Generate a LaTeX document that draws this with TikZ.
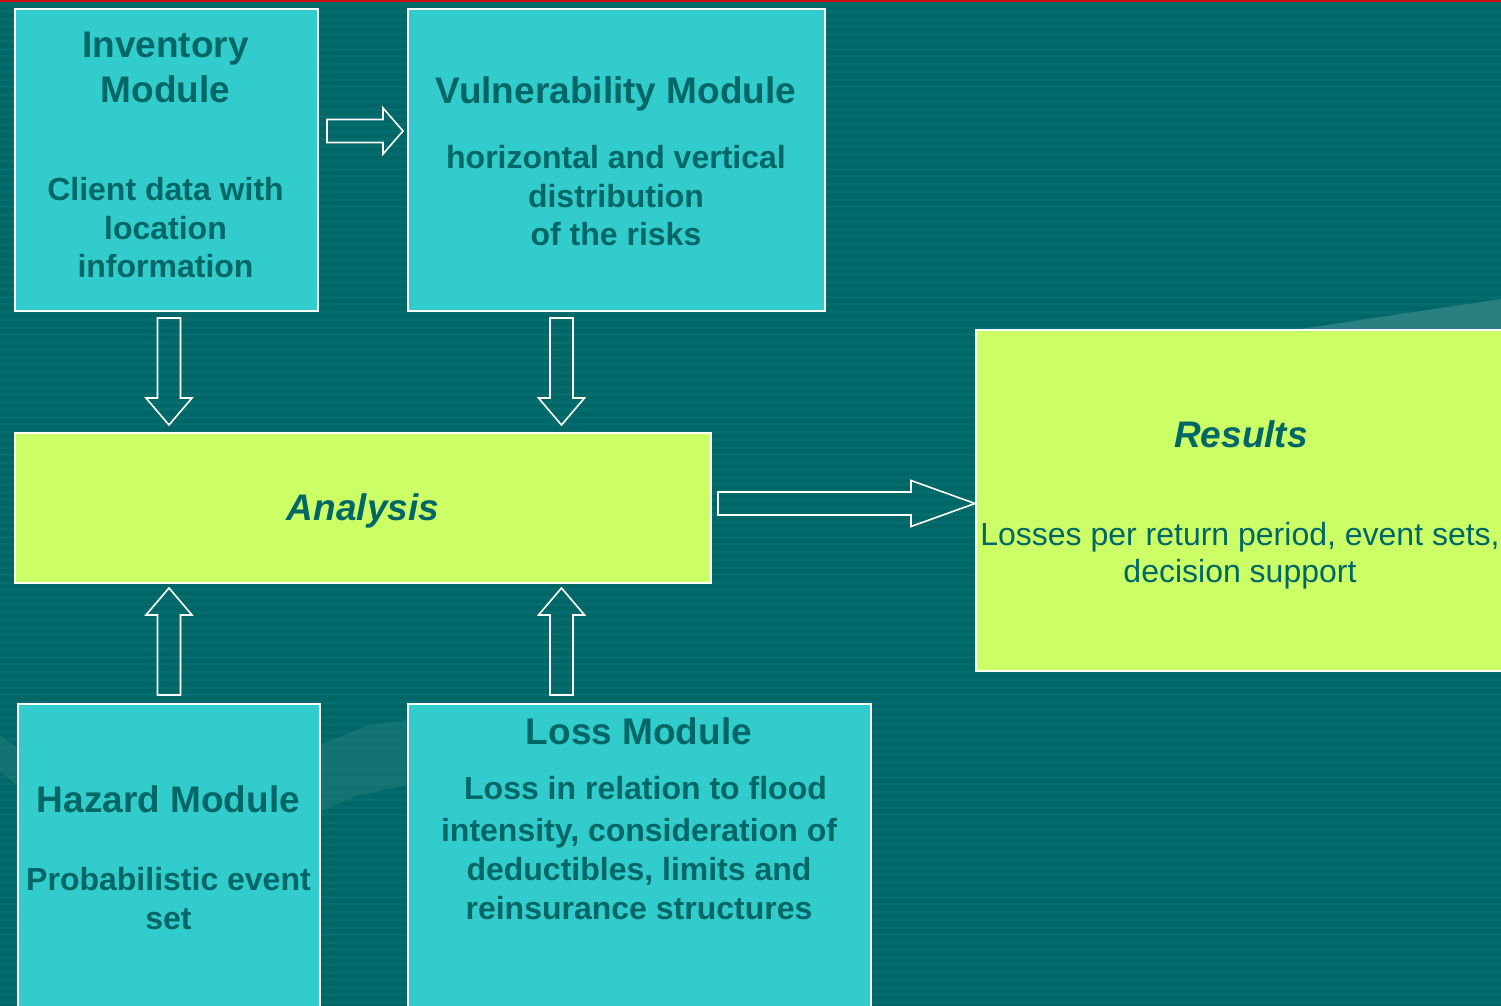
\documentclass[tikz,border=0pt]{standalone}
\usepackage{fontspec}
\setmainfont{Liberation Sans}
\usetikzlibrary{calc, positioning}

\definecolor{bgteal}{HTML}{006666}
\definecolor{stripe}{HTML}{056D6D}
\definecolor{sweep}{HTML}{2A8080}
\definecolor{topred}{HTML}{CC1111}
\definecolor{modcyan}{HTML}{33CCCC}
\definecolor{reslime}{HTML}{CCFF66}
\definecolor{inktext}{HTML}{006666}

\tikzset{
  modbox/.style={draw=white, line width=1pt, fill=modcyan, anchor=north west, inner sep=0pt},
  resbox/.style={modbox, fill=reslime},
  headtext/.style={text=inktext, font=\fontsize{18.5}{22.5}\selectfont\bfseries, align=center, anchor=north, inner sep=0pt},
  bodytext/.style={text=inktext, font=\fontsize{16}{19.25}\selectfont\bfseries, align=center, anchor=north, inner sep=0pt},
  plaintext/.style={bodytext, font=\fontsize{16}{18.5}\selectfont},
  arrowline/.style={draw=white, line width=0.8pt, line join=miter},
}

% hollow block arrow from #2 to #3, head length #1
\newcommand{\blockarrow}[3][13.5pt]{%
  \draw[arrowline] let \p1=($(#3)-(#2)$), \n1={atan2(\y1,\x1)}, \n2={veclen(\x1,\y1)} in
    [shift={(#2)}, rotate=\n1]
    (0pt,-5.75pt) -- ({\n2-#1},-5.75pt) -- ({\n2-#1},-11.5pt) -- (\n2,0pt)
    -- ({\n2-#1},11.5pt) -- ({\n2-#1},5.75pt) -- (0pt,5.75pt) -- cycle;
}

\begin{document}
\begin{tikzpicture}[x=0.5pt, y=-0.5pt]
  % Background
  \clip (0,0) rectangle (1501,1006);
  \fill[bgteal] (0,0) rectangle (1501,1006);
  \foreach \y in {3,10.5,...,1006}
    \fill[stripe] (0,\y) rectangle (1501,\y+3);
  \fill[sweep] (1280,332) -- (1501,299) -- (1501,332) -- cycle;
  \fill[sweep, opacity=0.45] (0,735) -- (17,748) -- (17,785) -- (0,772) -- cycle;
  \fill[sweep, opacity=0.45] (319,745) -- (370,725) -- (407,720) -- (407,785) -- (360,795) -- (319,812) -- cycle;
  \fill[topred] (0,0) rectangle (1501,2);

  % Modules
  \node[modbox, minimum width=151.5pt, minimum height=151pt] (inv) at (14,8) {};
  \node[modbox, minimum width=208.5pt, minimum height=151pt] (vul) at (407,8) {};
  \node[resbox, minimum width=348pt, minimum height=75pt] (ana) at (14,432) {};
  \node[resbox, minimum width=265pt, minimum height=170.5pt] (res) at (975,329) {};
  \node[modbox, minimum width=151pt, minimum height=160pt] (haz) at (17,703) {};
  \node[modbox, minimum width=231.5pt, minimum height=160pt] (los) at (407,703) {};

  % Texts
  \node[headtext] (invhead) at (165.5,32) {Inventory\\Module};
  \node[bodytext] (invbody) at (165.5,177) {Client data with\\location\\information};

  \node[headtext] (vulhead) at (616,76) {Vulnerability Module};
  \node[bodytext] (vulbody) at (616,145) {horizontal and vertical\\distribution\\of the risks};

  \node[headtext, font=\fontsize{18.5}{22.5}\selectfont\bfseries\itshape] (anahead) at (363,493) {Analysis};

  \node[headtext, font=\fontsize{18.5}{22.5}\selectfont\bfseries\itshape] (reshead) at (1241,420) {Results};
  \node[plaintext] (resbody) at (1240,522) {Losses per return period, event sets,\\decision support};

  \node[headtext] (hazhead) at (168.5,785) {Hazard Module};
  \node[bodytext] (hazbody) at (168.5,867) {Probabilistic event\\set};

  \node[headtext] (loshead) at (639,717) {Loss Module};
  \node[bodytext, font=\fontsize{16}{19.5}\selectfont\bfseries] (losbody) at (639,776)
    {\hspace*{6.5pt}Loss in relation to flood\\[1.3pt]intensity, consideration of\\deductibles, limits and\\reinsurance structures};

  % Arrow ends
  \coordinate (invout) at (327,131);
  \coordinate (vulin) at (403,131);
  \coordinate (invdown) at (169,318);
  \coordinate (anain1) at (169,425);
  \coordinate (vuldown) at (561.5,318);
  \coordinate (anain2) at (561.5,425);
  \coordinate (hazup) at (169,695);
  \coordinate (anain3) at (169,588);
  \coordinate (losup) at (561.5,695);
  \coordinate (anain4) at (561.5,588);
  \coordinate (anaout) at (718,503.5);
  \coordinate (resin) at (975,503.5);

  % Flow
  \blockarrow[10pt]{invout}{vulin}
  \blockarrow{invdown}{anain1}
  \blockarrow{vuldown}{anain2}
  \blockarrow{hazup}{anain3}
  \blockarrow{losup}{anain4}
  \blockarrow[32pt]{anaout}{resin}

\end{tikzpicture}
\end{document}
